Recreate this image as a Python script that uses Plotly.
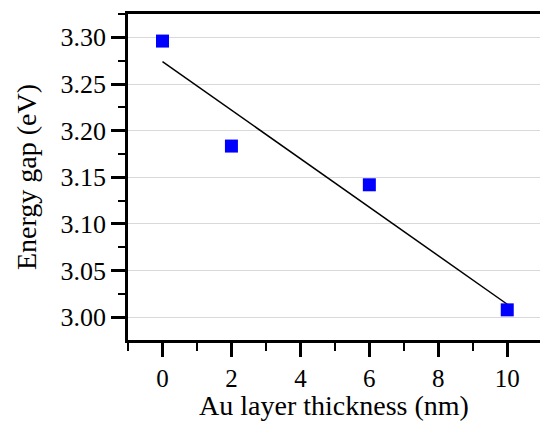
import plotly.graph_objects as go

thickness_nm = [0, 2, 6, 10]
energy_gap_ev = [3.296, 3.1835, 3.142, 3.008]
fit_x = [0, 10]
fit_y = [3.274, 3.014]

FONT = "Liberation Serif, Times New Roman, serif"

fig = go.Figure()
fig.add_trace(go.Scatter(x=fit_x, y=fit_y, mode="lines",
                         line=dict(color="black", width=1.5), showlegend=False))
fig.add_trace(go.Scatter(x=thickness_nm, y=energy_gap_ev, mode="markers",
                         marker=dict(symbol="square", size=13, color="#0000FF",
                                     line=dict(width=0)), showlegend=False))

fig.update_layout(
    width=540, height=421,
    margin=dict(l=128, r=0, t=14, b=81),
    paper_bgcolor="white", plot_bgcolor="white",
    font=dict(family=FONT, size=26, color="black"),
    xaxis=dict(
        range=[-1, 10.95], tick0=0, dtick=2,
        showline=True, linecolor="black", linewidth=2.5, mirror=True,
        ticks="outside", ticklen=14, tickwidth=2.5, tickcolor="black",
        minor=dict(dtick=1, ticks="outside", ticklen=8, tickwidth=2, tickcolor="black"),
        showgrid=False, zeroline=False,
        tickfont=dict(size=25),
        title=dict(text="Au layer thickness (nm)", font=dict(size=28), standoff=6),
    ),
    yaxis=dict(
        range=[2.9757, 3.325], tick0=3.0, dtick=0.05, tickformat=".2f",
        showline=True, linecolor="black", linewidth=2.5,
        ticks="outside", ticklen=14, tickwidth=2.5, tickcolor="black",
        minor=dict(dtick=0.025, ticks="outside", ticklen=7, tickwidth=2, tickcolor="black"),
        showgrid=True, gridcolor="#d9d9d9", gridwidth=1.2, zeroline=False,
        tickfont=dict(size=26),
        title=dict(text="Energy gap (eV)", font=dict(size=28), standoff=16),
    ),
)

fig.write_html("out.html")
